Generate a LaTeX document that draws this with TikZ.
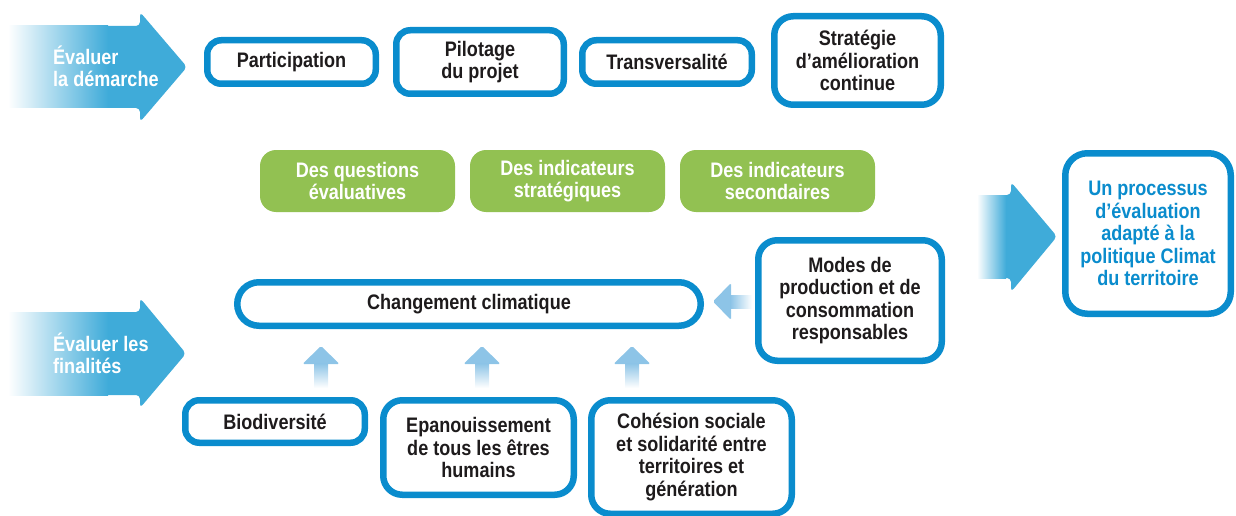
\documentclass[tikz,border=0pt]{standalone}
\usepackage{fontspec}
\setmainfont{Liberation Sans}[FakeStretch=0.86]
\definecolor{boxblue}{HTML}{0A8CCD}
\definecolor{arrowblue}{HTML}{3FABD9}
\definecolor{lightarrow}{HTML}{8DC4E7}
\definecolor{leafgreen}{HTML}{92C152}
\definecolor{txt}{HTML}{1E1B1C}
\begin{document}
\begin{tikzpicture}[x=1pt,y=-1pt,
  lab/.style={font=\fontsize{21}{22.4}\selectfont\bfseries},
  bluebox/.style={lab, draw=boxblue, line width=6.5pt, fill=white, rounded corners=14pt,
    align=center, text=txt, inner sep=0pt},
  bigbox/.style={bluebox, rounded corners=19pt},
  greenbox/.style={lab, fill=leafgreen, rounded corners=16pt, text=white, align=center,
    inner sep=0pt, minimum width=195pt, minimum height=62pt},
  arrowtext/.style={lab, text=white, align=left, anchor=west, inner sep=0pt},
  bigarrow/.style={fill=arrowblue, rounded corners=4pt},
  smallhead/.style={fill=lightarrow, rounded corners=1.5pt}]
\useasboundingbox (0,0) rectangle (1236,516);

% big left arrows
\fill[bigarrow] (100,26) -- (140,26) -- (140,12) -- (187,67) -- (140,122) -- (140,108) -- (100,108) -- cycle;
\shade[left color=white, right color=arrowblue] (8,26) rectangle (108,108);
\node[arrowtext] (a1) at (53,66) {Évaluer\\la démarche};

\fill[bigarrow] (100,312) -- (140,312) -- (140,298) -- (186,353.5) -- (140,408) -- (140,395) -- (100,395) -- cycle;
\shade[left color=white, right color=arrowblue] (8,312) rectangle (108,395);
\node[arrowtext] (a2) at (53,353) {Évaluer les\\finalités};

% big right arrow
\fill[bigarrow] (1000,195) -- (1011,195) -- (1011,182) -- (1057,236.5) -- (1011,292) -- (1011,278) -- (1000,278) -- cycle;
\shade[left color=white, right color=arrowblue] (977,195) rectangle (1006,278);

% top row
\node[bluebox, minimum width=168.5pt, minimum height=43.5pt] (part) at (291.5,62) {Participation};
\node[bluebox, minimum width=167.5pt, minimum height=63.5pt] (pilot) at (480,62) {Pilotage\\du projet};
\node[bluebox, minimum width=169.5pt, minimum height=43.5pt] (trans) at (667,62) {Transversalité};
\node[bigbox, minimum width=166.5pt, minimum height=88.5pt] (strat) at (857.5,60.5) {Stratégie\\d’amélioration\\continue};

% green row
\node[greenbox] (g1) at (357.5,181) {Des questions\\évaluatives};
\node[greenbox] (g2) at (567.5,181) {Des indicateurs\\stratégiques};
\node[greenbox] (g3) at (777.5,181) {Des indicateurs\\secondaires};

% right result
\node[bigbox, rounded corners=22pt, text=boxblue, minimum width=165.5pt, minimum height=160.5pt] (res) at (1148,233.5)
  {Un processus\\d’évaluation\\adapté à la\\politique Climat\\du territoire};

% finalities
\node[bluebox, rounded corners=21.75pt, minimum width=463.5pt, minimum height=43.5pt] (chg) at (469,304) {Changement climatique};
\node[bigbox, minimum width=183.5pt, minimum height=120.5pt] (modes) at (850,300.5) {Modes de\\production et de\\consommation\\responsables};
\node[bluebox, minimum width=179.5pt, minimum height=42.5pt] (bio) at (275,421.5) {Biodiversité};
\node[bigbox, minimum width=190.5pt, minimum height=94.5pt] (epa) at (478.5,447.5) {Epanouissement\\de tous les êtres\\humains};
\node[bigbox, minimum width=200.5pt, minimum height=113.5pt] (coh) at (691.5,457) {Cohésion sociale\\et solidarité entre\\territoires et\\génération};

% small arrows
\foreach \c in {321,482,632} {
  \fill[smallhead] (\c-18.5,364) -- (\c,346) -- (\c+18.5,364) -- cycle;
  \shade[top color=lightarrow, bottom color=white] (\c-7,363.5) rectangle (\c+7,388);
}
\fill[smallhead] (713,301.5) -- (731,283) -- (731,320) -- cycle;
\shade[left color=lightarrow, right color=white] (730.5,295) rectangle (752,308);
\end{tikzpicture}
\end{document}
